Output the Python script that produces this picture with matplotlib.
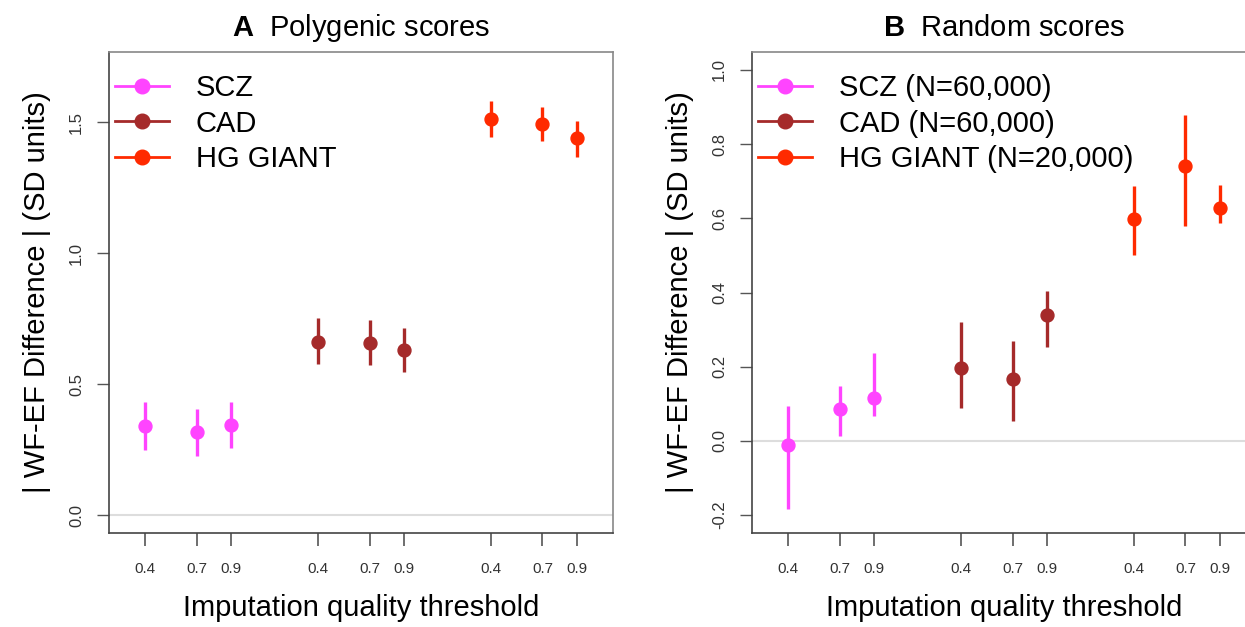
import matplotlib
matplotlib.use("Agg")
import matplotlib.pyplot as plt
from matplotlib.lines import Line2D
import numpy as np

plt.rcParams['font.family'] = ['Liberation Sans', 'DejaVu Sans']
plt.rcParams['mathtext.fontset'] = 'custom'
plt.rcParams['mathtext.rm'] = 'Liberation Sans'
plt.rcParams['mathtext.bf'] = 'Liberation Sans:bold'

groups = ["SCZ", "CAD", "HG GIANT"]
colors = ["#FF44FF", "#A52A2A", "#FF2A00"]
thresholds = [0.4, 0.7, 0.9]
tick_labels = ["0.4", "0.7", "0.9"]
group_offsets = [0, 1, 2]

# Panel A: Polygenic scores
polyg_est = {
    "SCZ": [0.340, 0.316, 0.343],
    "CAD": [0.662, 0.658, 0.631],
    "HG GIANT": [1.513, 1.493, 1.438],
}
polyg_lo = {
    "SCZ": [0.250, 0.226, 0.256],
    "CAD": [0.578, 0.573, 0.547],
    "HG GIANT": [1.444, 1.428, 1.369],
}
polyg_hi = {
    "SCZ": [0.432, 0.405, 0.432],
    "CAD": [0.751, 0.744, 0.716],
    "HG GIANT": [1.581, 1.559, 1.506],
}

# Panel B: Random scores
rand_est = {
    "SCZ": [-0.010, 0.087, 0.117],
    "CAD": [0.196, 0.168, 0.339],
    "HG GIANT": [0.597, 0.740, 0.628],
}
rand_lo = {
    "SCZ": [-0.182, 0.013, 0.068],
    "CAD": [0.090, 0.055, 0.253],
    "HG GIANT": [0.501, 0.578, 0.586],
}
rand_hi = {
    "SCZ": [0.095, 0.147, 0.236],
    "CAD": [0.321, 0.268, 0.405],
    "HG GIANT": [0.688, 0.878, 0.690],
}
rand_legend = ["SCZ (N=60,000)", "CAD (N=60,000)", "HG GIANT (N=20,000)"]

fig = plt.figure(figsize=(12.45, 6.27), dpi=100)
W, H = 1245, 627

def px_axes(l, t, r, b):
    return fig.add_axes([l / W, 1 - b / H, (r - l) / W, (b - t) / H])

axA = px_axes(109, 52, 613, 533)
axB = px_axes(752, 52, 1256, 533)

def draw(ax, est, lo, hi, legend_labels, yticks, ylim, xlim):
    xs_all, labs = [], []
    for g, c, off in zip(groups, colors, group_offsets):
        xs = [t + off for t in thresholds]
        e = np.array(est[g]); l = np.array(lo[g]); h = np.array(hi[g])
        ax.vlines(xs, l, h, color=c, lw=2.4, zorder=3)
        ax.plot(xs, e, 'o', color=c, ms=9.3, zorder=4)
        xs_all += xs
        labs += tick_labels
    ax.axhline(0, color="#DDDDDD", lw=1.5, zorder=1)
    ax.set_xlim(*xlim)
    ax.set_ylim(*ylim)
    ax.set_xticks(xs_all)
    ax.set_xticklabels(labs, fontsize=11, color="#333333")
    ax.set_yticks(yticks)
    ax.set_yticklabels([f"{v:.1f}" for v in yticks], fontsize=12,
                       rotation=90, va='center', color="#333333")
    ax.tick_params(axis='x', length=9, width=1.2, color="#555555", pad=12)
    ax.tick_params(axis='y', length=9, width=1.0, color="#555555", pad=9)
    for s in ax.spines.values():
        s.set_color("#888888")
        s.set_linewidth(1.2)
    ax.spines['left'].set_color("#444444")
    ax.spines['bottom'].set_color("#444444")
    ax.set_xlabel("Imputation quality threshold", fontsize=21, labelpad=13)
    ax.set_ylabel("| WF-EF Difference | (SD units)", fontsize=21, labelpad=13)
    handles = [Line2D([0], [0], color=c, lw=2, marker='o', ms=10.5) for c in colors]
    ax.legend(handles, legend_labels, loc='upper left', frameon=False,
              bbox_to_anchor=(2 / 504, 1 - 18 / 481),
              fontsize=21, handlelength=1.85, handletextpad=0.9,
              labelspacing=0.25, borderaxespad=0.0, borderpad=0.15)

draw(axA, polyg_est, polyg_lo, polyg_hi, groups, [0.0, 0.5, 1.0, 1.5],
     (-0.068, 1.768), (0.192, 3.108))
draw(axB, rand_est, rand_lo, rand_hi, rand_legend, [-0.2, 0.0, 0.2, 0.4, 0.6, 0.8, 1.0],
     (-0.248, 1.048), (0.192, 3.108))

fig.text(361 / W, 1 - 28 / H, r"$\bf{A}$  Polygenic scores", ha='center', va='center',
         fontsize=21)
fig.text(1004 / W, 1 - 28 / H, r"$\bf{B}$  Random scores", ha='center', va='center',
         fontsize=21)

fig.savefig("out.png", dpi=100)
